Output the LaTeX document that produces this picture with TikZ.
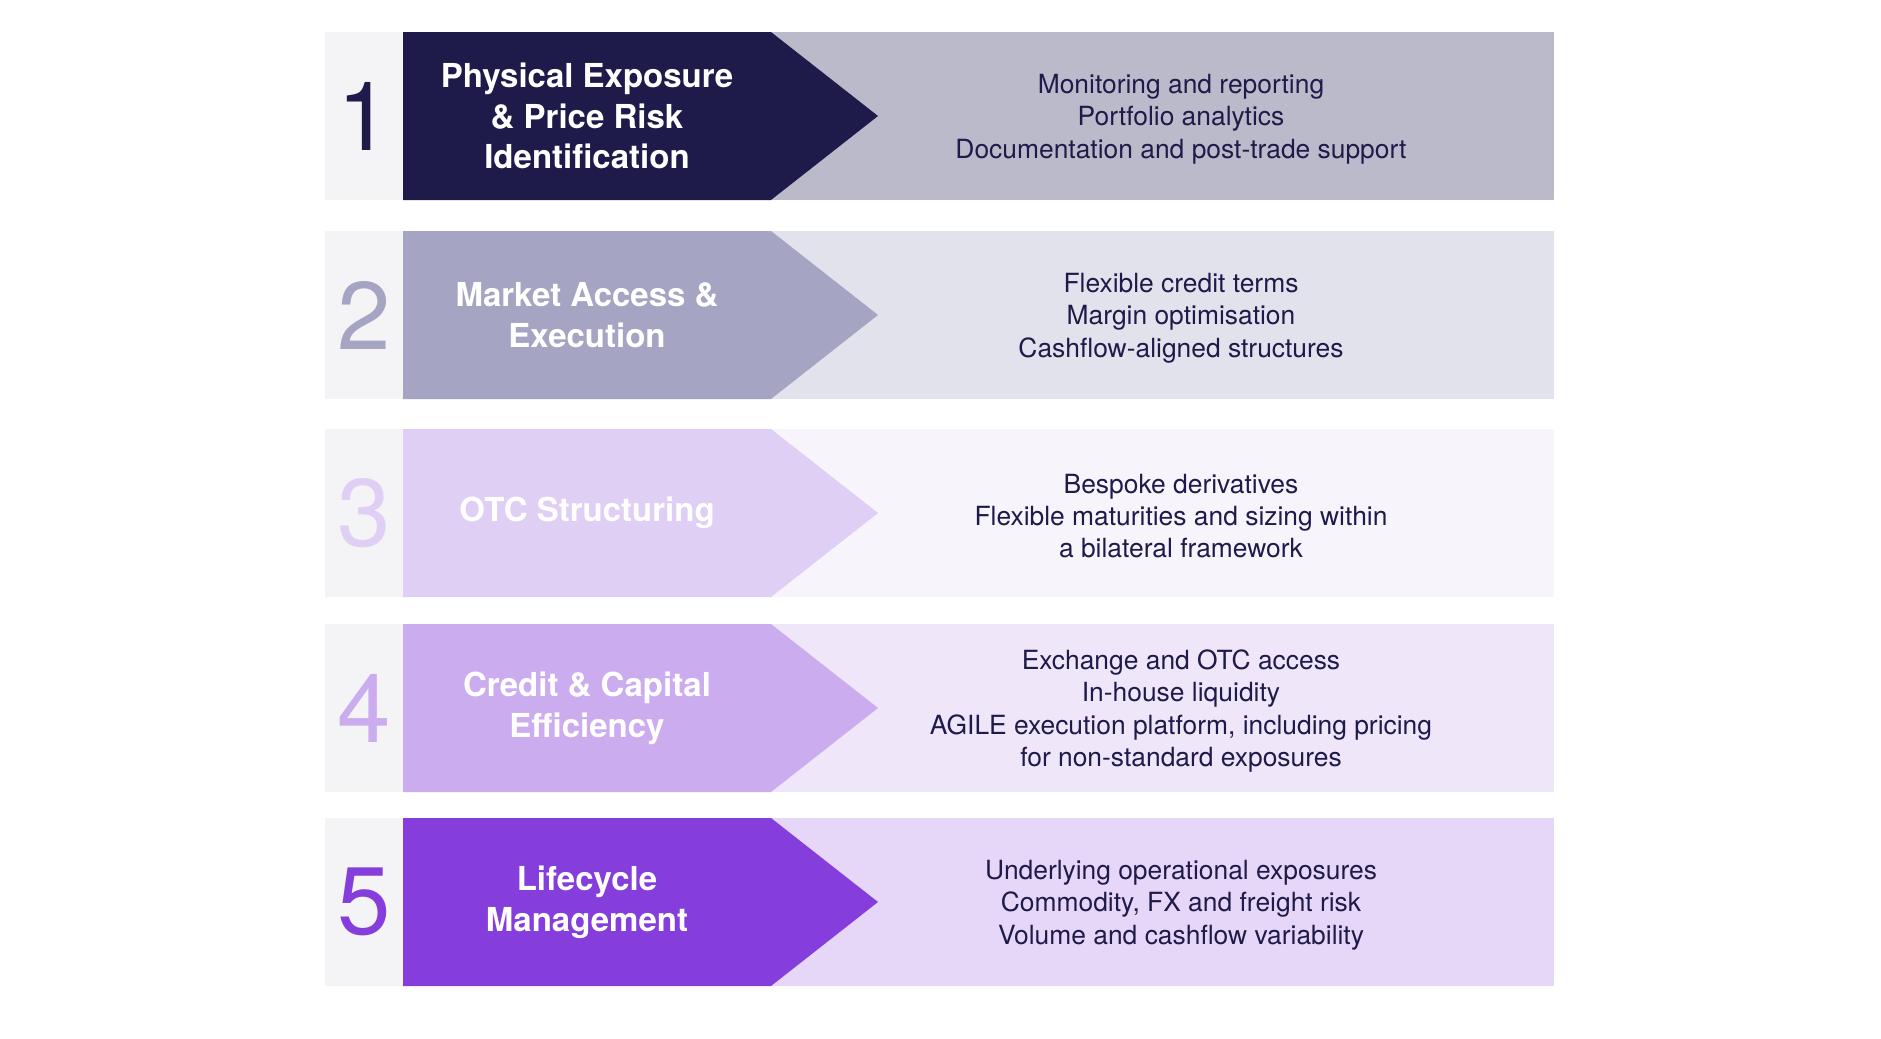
\documentclass[tikz,border=0pt]{standalone}
\usepackage{fontspec}
\setmainfont{TeX Gyre Heros}
\definecolor{navy}{HTML}{1E1B4B}
\definecolor{greyA}{HTML}{A5A4C2}
\definecolor{greyB}{HTML}{BBBACA}
\definecolor{greyC}{HTML}{E2E2EC}
\definecolor{lilacA}{HTML}{DFCFF5}
\definecolor{lilacB}{HTML}{F7F4FC}
\definecolor{lilacC}{HTML}{CBADEF}
\definecolor{lilacD}{HTML}{EFE6FA}
\definecolor{violet}{HTML}{853DDC}
\definecolor{violetB}{HTML}{E6D6F7}
\definecolor{numgrey}{HTML}{F4F4F7}
\tikzset{
  numtext/.style={font=\fontsize{48}{48}\selectfont, inner sep=0pt},
  headtext/.style={font=\fontsize{16.5}{20.4}\selectfont\bfseries, text=white, align=center, inner sep=0pt},
  desctext/.style={font=\fontsize{13.2}{16.2}\selectfont, text=navy, align=center, inner sep=0pt}
}
% #1 number, #2 top, #3 arrow colour, #4 panel colour, #5 title, #6 text
\newcommand{\riskrow}[6]{
\fill[numgrey] (325,#2) rectangle (403,#2+168);
\fill[#4] (771,#2) rectangle (1554,#2+168);
\fill[#3] (403,#2) -- (771,#2) -- (878,#2+84) -- (771,#2+168) -- (403,#2+168) -- cycle;
\node[numtext, text=#3] (num#1) at (364,#2+84) {#1};
\node[headtext] (head#1) at (587,#2+84) {#5};
\node[desctext] (desc#1) at (1181,#2+87) {#6};
}

\begin{document}
\begin{tikzpicture}[x=0.5pt,y=-0.5pt]
\useasboundingbox (0,0) rectangle (1881,1039);
\fill[white] (0,0) rectangle (1881,1039);
\riskrow{1}{32}{navy}{greyB}{Physical Exposure\\ \& Price Risk\\ Identification}{Monitoring and reporting\\ Portfolio analytics\\ Documentation and post-trade support}
\riskrow{2}{231}{greyA}{greyC}{Market Access \&\\ Execution}{Flexible credit terms\\ Margin optimisation\\ Cashflow-aligned structures}
\riskrow{3}{429}{lilacA}{lilacB}{OTC Structuring}{Bespoke derivatives\\ Flexible maturities and sizing within\\ a bilateral framework}
\riskrow{4}{624}{lilacC}{lilacD}{Credit \& Capital\\ Efficiency}{Exchange and OTC access\\ In-house liquidity\\ AGILE execution platform, including pricing\\ for non-standard exposures}
\riskrow{5}{818}{violet}{violetB}{Lifecycle\\ Management}{Underlying operational exposures\\ Commodity, FX and freight risk\\ Volume and cashflow variability}
\end{tikzpicture}
\end{document}
